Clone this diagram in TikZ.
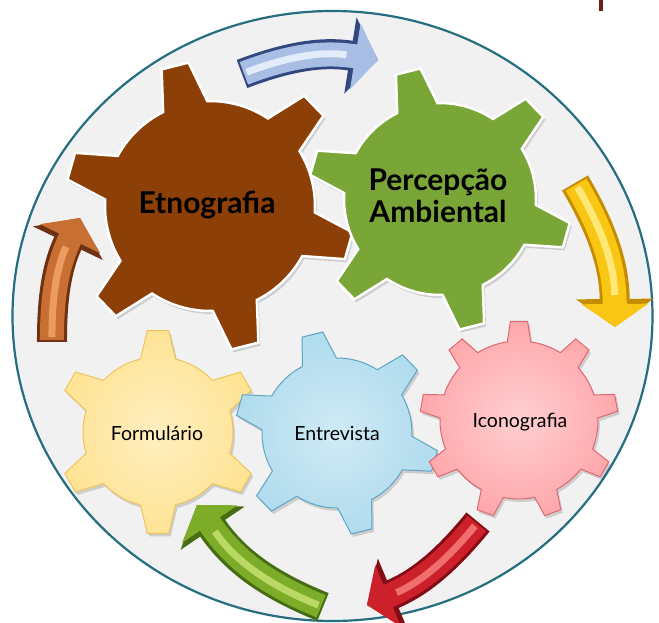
\documentclass[tikz,border=0pt]{standalone}
\usepackage{fontspec}
\setmainfont{Lato}
\usetikzlibrary{arrows.meta}

\definecolor{rimteal}{RGB}{36,110,128}
\definecolor{discgray}{RGB}{241,241,241}
\definecolor{etnobrown}{RGB}{140,64,8}
\definecolor{percgreen}{RGB}{122,166,56}
\definecolor{formyellow}{RGB}{255,228,150}
\definecolor{formedge}{RGB}{240,196,86}
\definecolor{entrblue}{RGB}{176,220,238}
\definecolor{entredge}{RGB}{96,166,196}
\definecolor{iconpink}{RGB}{255,168,172}
\definecolor{iconedge}{RGB}{222,104,112}
\definecolor{cutmark}{RGB}{110,30,20}
% arrow colours
\definecolor{rimblue}{RGB}{52,72,128}
\definecolor{bodyblue}{RGB}{168,190,228}
\definecolor{shineblue}{RGB}{226,236,250}
\definecolor{rimgold}{RGB}{196,140,0}
\definecolor{bodygold}{RGB}{250,198,20}
\definecolor{shinegold}{RGB}{255,232,120}
\definecolor{rimred}{RGB}{130,12,20}
\definecolor{bodyred}{RGB}{204,32,42}
\definecolor{shinered}{RGB}{240,110,110}
\definecolor{rimlime}{RGB}{70,108,20}
\definecolor{bodylime}{RGB}{124,172,40}
\definecolor{shinelime}{RGB}{186,216,100}
\definecolor{rimcopper}{RGB}{110,50,18}
\definecolor{bodycopper}{RGB}{200,112,52}
\definecolor{shinecopper}{RGB}{236,156,96}

% gear outline: teeth, root r, tip r, first tooth angle, tip half angle, root half angle
\newcommand{\gear}[6]{%
  (#4-#6:#2)
  \foreach \k in {1,...,#1}{
    -- ({#4+(\k-1)*360/#1-#5}:#3) -- ({#4+(\k-1)*360/#1+#5}:#3)
    -- ({#4+(\k-1)*360/#1+#6}:#2)
    arc[start angle={#4+(\k-1)*360/#1+#6}, end angle={#4+\k*360/#1-#6}, radius=#2]
  } -- cycle}

\begin{document}
\begin{tikzpicture}[x=1pt, y=1pt,
    smalllabel/.style={font=\fontsize{19.5}{22}\selectfont},
    biglabel/.style={font=\fontsize{30}{32}\selectfont\bfseries, align=center},
    gearshadow/.style={fill=black, opacity=.15},
    arrowrim/.style={line width=30pt, -{Triangle[width=76pt,length=28pt]}},
    arrowbody/.style={line width=24pt, shorten <=2pt, -{Triangle[width=66pt,length=23pt]}},
    arrowshine/.style={line width=7pt, shorten <=5pt, shorten >=32pt}]
  \useasboundingbox (0,0) rectangle (659,623);

  % Disc
  \draw[rimteal, line width=2.2pt, fill=discgray] (332.5,307) ellipse [x radius=320, y radius=305];
  \fill[cutmark] (599,612) rectangle (603,623);

  % Gear centres
  \coordinate (etno) at (210,417);
  \coordinate (perc) at (440,424);
  \coordinate (form) at (158,191);
  \coordinate (entr) at (337,190);
  \coordinate (icon) at (519,203);

  % Shadows
  \fill[gearshadow, shift={(etno)}, xshift=2, yshift=-3] \gear{6}{105}{145}{104}{5.5}{12.5};
  \fill[gearshadow, shift={(perc)}, xshift=2, yshift=-3] \gear{6}{96}{132}{104}{5.5}{12.5};
  \fill[gearshadow, shift={(form)}, xshift=2, yshift=-3] \gear{6}{75}{102}{90}{6}{13.5};
  \fill[gearshadow, shift={(entr)}, xshift=2, yshift=-3] \gear{6}{75}{102}{104}{6}{13.5};
  \fill[gearshadow, shift={(icon)}, xshift=2, yshift=-3] \gear{9}{79}{99}{90}{5}{8.5};

  % Gears
  \filldraw[fill=etnobrown, draw=white, line width=2.5pt, shift={(etno)}] \gear{6}{105}{145}{104}{5.5}{12.5};
  \filldraw[fill=percgreen, draw=white, line width=2.5pt, shift={(perc)}] \gear{6}{96}{132}{104}{5.5}{12.5};
  \shadedraw[inner color=formyellow!60!white, outer color=formyellow, draw=formedge, line width=1pt, shift={(form)}] \gear{6}{75}{102}{90}{6}{13.5};
  \shadedraw[inner color=entrblue!60!white, outer color=entrblue, draw=entredge, line width=1pt, shift={(entr)}] \gear{6}{75}{102}{104}{6}{13.5};
  \shadedraw[inner color=iconpink!55!white, outer color=iconpink, draw=iconedge, line width=1pt, shift={(icon)}] \gear{9}{79}{99}{90}{5}{8.5};

  % Labels
  \node[biglabel] (etnolabel) at (207,418) {Etnografia};
  \node[biglabel] (perclabel) at (438,427) {Percepção\\Ambiental};
  \node[smalllabel] (formlabel) at (157,190) {Formulário};
  \node[smalllabel] (entrlabel) at (337,190) {Entrevista};
  \node[smalllabel] (iconlabel) at (520,201) {Iconografia};

  % Arrow ends
  \coordinate (bluetail) at (242,549);
  \coordinate (bluetip) at (378,563);
  \coordinate (goldtail) at (575,440);
  \coordinate (goldtip) at (615,296);
  \coordinate (redtail) at (478,101);
  \coordinate (redtip) at (367,18);
  \coordinate (limetail) at (323,16);
  \coordinate (limetip) at (197,118);
  \coordinate (coppertail) at (52,281);
  \coordinate (coppertip) at (80,405);

  % Arrows
  \foreach \c/\b in {blue/15, gold/15, red/14, lime/17, copper/13} {
    \draw[arrowrim, rim\c] (\c tail) to[bend left=\b] (\c tip);
    \draw[arrowbody, body\c] (\c tail) to[bend left=\b] (\c tip);
    \draw[arrowshine, shine\c] (\c tail) to[bend left=\b] (\c tip);
  }
\end{tikzpicture}
\end{document}
